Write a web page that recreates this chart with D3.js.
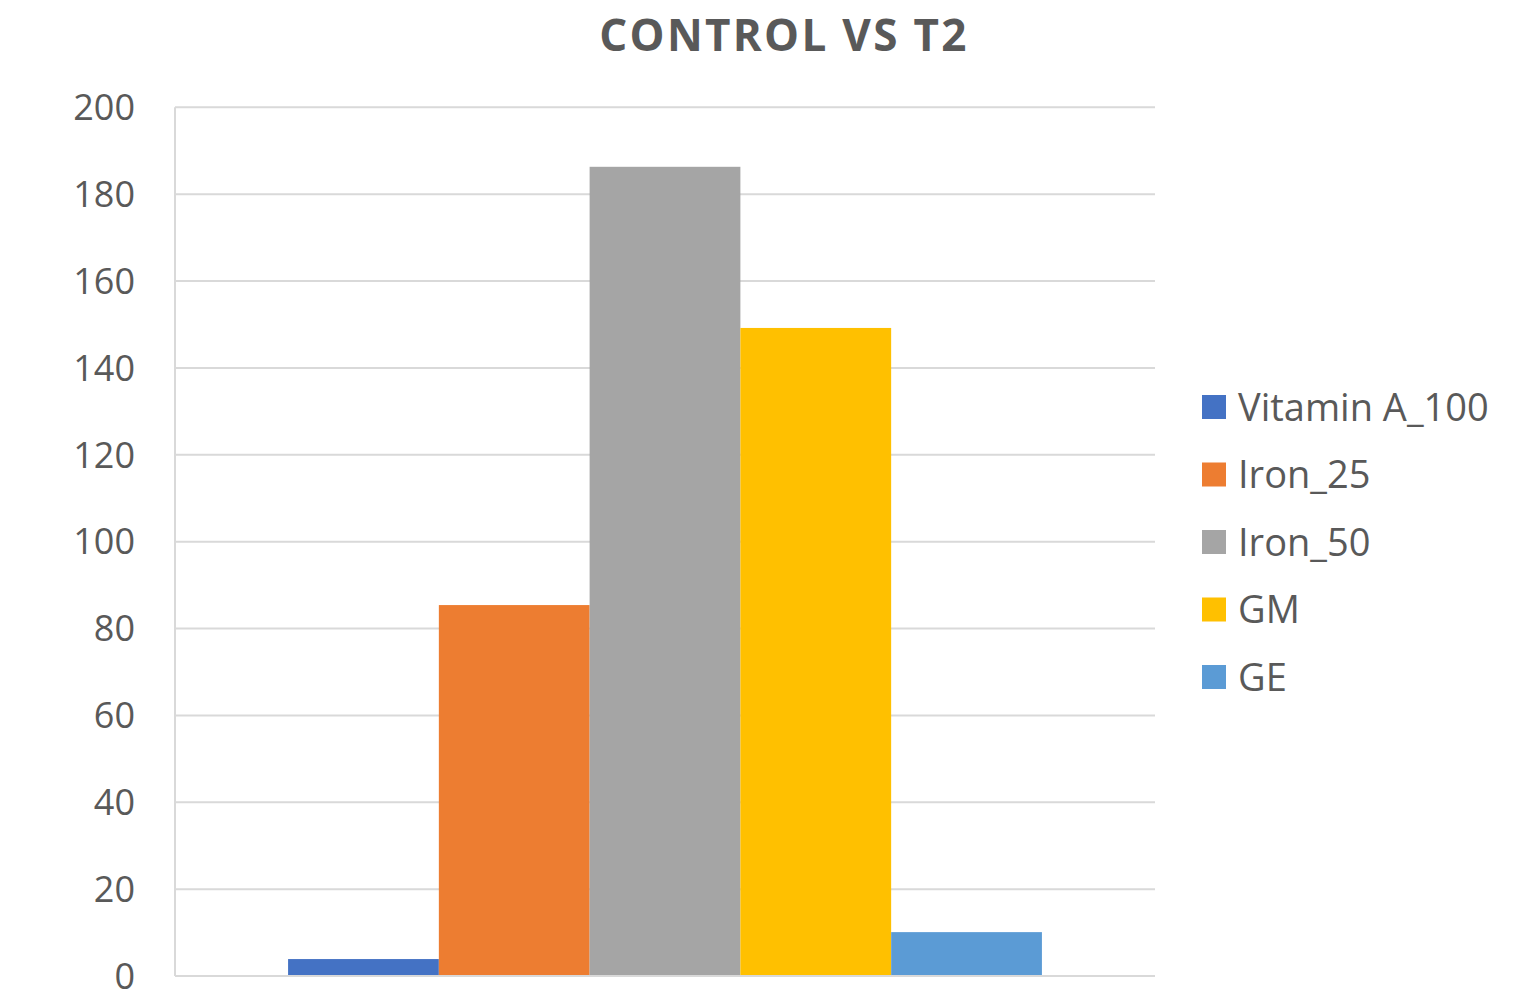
<!DOCTYPE html>
<html>
<head>
<meta charset="utf-8">
<script src="https://cdn.jsdelivr.net/npm/d3@7/dist/d3.min.js"></script>
<style>
  html, body { margin: 0; padding: 0; background: #ffffff; }
  svg { display: block; }
</style>
</head>
<body>
<svg id="chart" width="1539" height="991"></svg>
<script>
// Chart data
const title = "CONTROL VS T2";
const seriesNames = ["Vitamin A_100", "Iron_25", "Iron_50", "GM", "GE"];
const seriesValues = [3.9, 85.4, 186.3, 149.2, 10.1];
const seriesColors = ["#4472C4", "#ED7D31", "#A5A5A5", "#FFC000", "#5B9BD5"];
const yTicks = [0, 20, 40, 60, 80, 100, 120, 140, 160, 180, 200];

const svg = d3.select("#chart");
const textColor = "#595959";
const gridColor = "#d9d9d9";
const font = "'Open Sans', 'Liberation Sans', sans-serif";

const plot = { left: 175, right: 1155, top: 107.3, bottom: 976 };

const y = d3.scaleLinear().domain([0, 200]).range([plot.bottom, plot.top]);

// single category cluster with the series side by side
const x = d3.scaleBand()
  .domain(seriesNames)
  .range([plot.left, plot.right])
  .paddingInner(0)
  .paddingOuter(0.75);

// gridlines
svg.append("g")
  .selectAll("line")
  .data(yTicks.filter(d => d > 0))
  .join("line")
  .attr("x1", plot.left).attr("x2", plot.right)
  .attr("y1", d => y(d)).attr("y2", d => y(d))
  .attr("stroke", gridColor).attr("stroke-width", 2);

// left axis line
svg.append("line")
  .attr("x1", plot.left).attr("x2", plot.left)
  .attr("y1", plot.top).attr("y2", plot.bottom)
  .attr("stroke", gridColor).attr("stroke-width", 2);

// bars
svg.append("g")
  .selectAll("rect")
  .data(seriesNames.map((n, i) => ({ name: n, value: seriesValues[i], color: seriesColors[i] })))
  .join("rect")
  .attr("x", d => x(d.name))
  .attr("width", x.bandwidth())
  .attr("y", d => y(d.value))
  .attr("height", d => y(0) - y(d.value))
  .attr("fill", d => d.color);

// bottom axis line
svg.append("line")
  .attr("x1", plot.left).attr("x2", plot.right)
  .attr("y1", y(0)).attr("y2", y(0))
  .attr("stroke", gridColor).attr("stroke-width", 2);

// y axis labels
const yAxis = d3.axisLeft(y).tickValues(yTicks).tickSize(0).tickPadding(0);
const yg = svg.append("g")
  .attr("transform", `translate(${plot.left - 40},0)`)
  .call(yAxis);
yg.select(".domain").remove();
yg.selectAll("text")
  .attr("fill", textColor)
  .attr("font-family", font)
  .attr("font-size", 36)
  .attr("dy", "0.34em");

// title
svg.append("text")
  .attr("x", 784).attr("y", 51)
  .attr("text-anchor", "middle")
  .attr("fill", textColor)
  .attr("font-family", font)
  .attr("font-weight", "bold")
  .attr("font-size", 44)
  .attr("letter-spacing", 2.3)
  .text(title);

// legend
const legend = svg.append("g");
const rows = legend.selectAll("g")
  .data(seriesNames.map((n, i) => ({ name: n, color: seriesColors[i] })))
  .join("g")
  .attr("transform", (d, i) => `translate(1202, ${407 + i * 67.5})`);
rows.append("rect")
  .attr("x", 0).attr("y", -12)
  .attr("width", 24).attr("height", 24)
  .attr("fill", d => d.color);
rows.append("text")
  .attr("x", 36).attr("y", 0)
  .attr("dy", "0.36em")
  .attr("fill", textColor)
  .attr("font-family", font)
  .attr("font-size", 38)
  .text(d => d.name);
</script>
</body>
</html>
